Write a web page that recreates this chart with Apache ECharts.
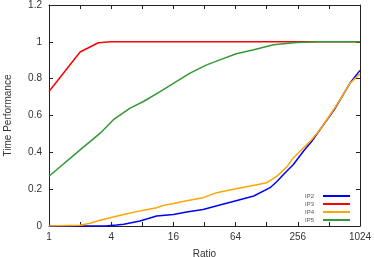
<!DOCTYPE html>
<html>
<head>
<meta charset="utf-8">
<script src="https://cdn.jsdelivr.net/npm/echarts@6/dist/echarts.min.js"></script>
<style>html,body{margin:0;padding:0;background:#fff;}#c{width:374px;height:257px;}</style>
</head>
<body>
<div id="c"></div>
<script>
const seriesNames = ['IP2', 'IP3', 'IP4', 'IP5'];
const ip2X = [1, 3.5, 4.5, 5.3, 7.6, 11, 16, 21.5, 31, 45, 66, 96, 138, 160, 186, 232, 291, 350, 421, 567, 700, 820, 1024];
const ip2Y = [0, 0, 0.005, 0.01, 0.027, 0.054, 0.063, 0.076, 0.09, 0.114, 0.139, 0.163, 0.208, 0.24, 0.28, 0.334, 0.407, 0.46, 0.524, 0.625, 0.71, 0.776, 0.845];
const ip3X = [1, 2, 3, 4, 1024];
const ip3Y = [0.73, 0.945, 0.995, 1, 1];
const ip4X = [1, 2, 2.5, 3, 3.9, 5.3, 7, 9, 11, 12.8, 16, 21.5, 31, 42, 61, 89, 128, 161, 200, 232, 291, 350, 421, 567, 700, 820, 1024];
const ip4Y = [0, 0.004, 0.015, 0.028, 0.045, 0.063, 0.078, 0.09, 0.099, 0.112, 0.122, 0.137, 0.154, 0.181, 0.199, 0.217, 0.235, 0.271, 0.32, 0.371, 0.425, 0.47, 0.524, 0.631, 0.71, 0.776, 0.825];
const ip5X = [1, 2, 3.13, 4.2, 6.1, 8.2, 11.9, 17.2, 23.2, 33.6, 45, 65, 96, 149, 250, 400, 1024];
const ip5Y = [0.27, 0.413, 0.504, 0.577, 0.64, 0.676, 0.73, 0.785, 0.83, 0.875, 0.902, 0.935, 0.957, 0.984, 0.996, 1, 1];
const xTickLabels = ['1', '4', '16', '64', '256', '1024'];
const colors = ['#0000ff', '#ff0000', '#ffa500', '#339933'];

const xs = [ip2X, ip3X, ip4X, ip5X];
const ys = [ip2Y, ip3Y, ip4Y, ip5Y];

const axisColor = '#222';
const font = 'Liberation Sans, Arial, sans-serif';

// x axis is a base-2 logarithmic scale: position = log2(ratio)
function xAxisDef(pos, showLabels) {
  return {
    type: 'value', min: 0, max: 10, interval: 1, position: pos,
    axisLine: {show: true, onZero: false, lineStyle: {color: axisColor, width: 1}},
    axisTick: {show: true, inside: true, length: 4, lineStyle: {color: axisColor}},
    splitLine: {show: false},
    axisLabel: {
      show: showLabels, color: '#333', fontSize: 10, fontFamily: font, margin: 6,
      formatter: function (v) {
        const e = Math.round(v);
        return e % 2 === 0 ? xTickLabels[e / 2] : '';
      }
    },
    name: showLabels ? 'Ratio' : '', nameLocation: 'middle', nameGap: 23,
    nameTextStyle: {color: '#333', fontSize: 10, fontFamily: font}
  };
}
function yAxisDef(pos, showLabels) {
  return {
    type: 'value', min: 0, max: 1.2, interval: 0.2, position: pos,
    axisLine: {show: true, onZero: false, lineStyle: {color: axisColor, width: 1}},
    axisTick: {show: true, inside: true, length: 4, lineStyle: {color: axisColor}},
    splitLine: {show: false},
    axisLabel: {show: showLabels, color: '#333', fontSize: 10, fontFamily: font, margin: 7,
      formatter: function (v) { return String(Math.round(v * 10) / 10); }},
    name: showLabels ? 'Time Performance' : '', nameLocation: 'middle', nameGap: 36,
    nameTextStyle: {color: '#333', fontSize: 10, fontFamily: font}
  };
}

const chart = echarts.init(document.getElementById('c'), null, {renderer: 'canvas'});
chart.setOption({
  animation: false,
  backgroundColor: '#fff',
  grid: {left: 49, right: 14, top: 5, bottom: 31, containLabel: false, outerBoundsMode: 'none'},
  xAxis: [xAxisDef('bottom', true), xAxisDef('top', false)],
  yAxis: [yAxisDef('left', true), yAxisDef('right', false)],
  legend: {
    orient: 'vertical', right: 19, top: 187, align: 'right',
    itemWidth: 27, itemHeight: 2, itemGap: 0, icon: 'rect',
    textStyle: {color: '#555', fontSize: 6, lineHeight: 8, fontFamily: font, padding: [0, 4, 0, 0]},
    data: seriesNames
  },
  series: seriesNames.map(function (n, i) {
    return {
      name: n, type: 'line', xAxisIndex: 0, yAxisIndex: 0,
      showSymbol: false, symbol: 'none',
      lineStyle: {color: colors[i], width: 1.5},
      itemStyle: {color: colors[i]},
      data: xs[i].map(function (x, j) { return [Math.log2(x), ys[i][j]]; })
    };
  })
});
</script>
</body>
</html>
